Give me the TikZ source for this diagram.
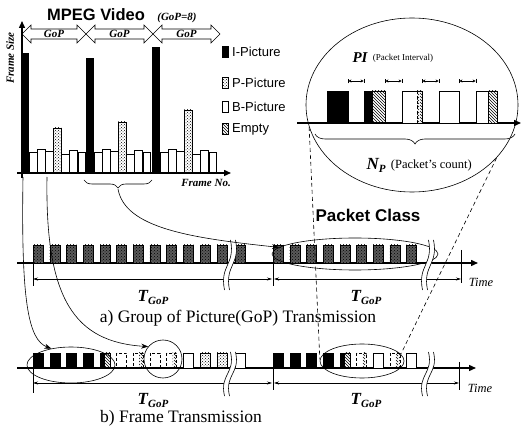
\documentclass[tikz,border=0pt]{standalone}
\usepackage{fontspec}
\setmainfont{Liberation Serif}
\newfontfamily\hvfont{Liberation Sans}
\usetikzlibrary{arrows.meta,positioning,calc,decorations.pathreplacing,patterns,shapes.geometric}
\tikzset{
  ibar/.style={draw=black, fill=black},
  pbar/.style={draw=black, pattern=crosshatch dots},
  bbar/.style={draw=black, fill=white},
  ebar/.style={draw=black, pattern=north west lines},
  apkt/.style={draw=black, preaction={fill=black!65}, pattern=crosshatch dots},
  dpkt/.style={draw=black, densely dashed},
  ihpkt/.style={draw=black, path picture={
      \fill (path picture bounding box.south west) rectangle (path picture bounding box.north);
      \fill[pattern=north west lines] (path picture bounding box.north) rectangle (path picture bounding box.south east);}},
  whpkt/.style={draw=black, densely dashed, path picture={
      \fill[pattern=north west lines] ([xshift=-4pt]path picture bounding box.north east) rectangle (path picture bounding box.south east);}},
  axis/.style={-{Triangle[length=7pt,width=6pt]}, line width=1.4pt},
  dim/.style={{Stealth[length=5pt,width=3pt]}-{Stealth[length=5pt,width=3pt]}, semithick},
  lens/.style={draw, ellipse, inner sep=0pt, semithick},
  link/.style={-{Stealth[length=7pt,width=5pt]}, semithick},
  zoomline/.style={semithick, dash pattern=on 4pt off 3pt},
  lbl/.style={font=\bfseries\itshape\fontsize{11}{13}\selectfont},
  tgop/.style={font=\bfseries\itshape\fontsize{17}{19}\selectfont},
  captxt/.style={font=\fontsize{17.5}{19}\selectfont},
  timelbl/.style={font=\itshape\fontsize{12.5}{14}\selectfont},
  legtxt/.style={anchor=west, font=\hvfont\fontsize{13}{15}\selectfont, inner sep=0pt},
  headtxt/.style={font=\hvfont\bfseries\fontsize{#1}{#1}\selectfont},
}

\begin{document}
\begin{tikzpicture}[x=1pt, y=-1pt]
\useasboundingbox (0,0) rectangle (522,435);

% --- MPEG video chart
\node[headtxt=16.5] (title) at (96,15) {MPEG Video};
\node[lbl] (gopn) at (177,18) {(GoP=8)};
\foreach \a/\b [count=\i] in {22/86, 86/153, 153/220} {
  \draw[semithick, fill=white] (\a,34) -- (\a+9,25) -- (\a+9,29) -- (\b-9,29) -- (\b-9,25) -- (\b,34)
    -- (\b-9,43) -- (\b-9,39) -- (\a+9,39) -- (\a+9,43) -- cycle;
  \node[lbl, inner sep=0pt, anchor=base] (gop\i) at ({(\a+\b)/2},38) {GoP};
}
\foreach \xs/\itop/\ptop in {21/53/128, 86/58/122, 152/47/110} {
  \draw[ibar] (\xs,173) rectangle (\xs+7.5,\itop);
  \foreach \k/\btop in {1/152, 2/149, 3/151, 5/154, 6/150, 7/152}
    \draw[bbar] (\xs+8.1*\k,173) rectangle (\xs+8.1*\k+7.6,\btop);
  \draw[pbar] (\xs+32.4,173) rectangle (\xs+40,\ptop);
}
\draw[axis] (22,178) -- (22,21);
\draw[axis] (17,173) -- (231,173);
\node[lbl, rotate=90] (fsize) at (10,58) {Frame Size};
\node[lbl] (fno) at (206,183) {Frame No.};
\foreach \ty/\sty/\txt [count=\j] in {52/ibar/I-Picture, 83/pbar/P-Picture, 107/bbar/B-Picture, 129/ebar/Empty} {
  \draw[\sty] (222,\ty-5.5) rectangle (228,\ty+5.5);
  \node[legtxt] (leg\j) at (232,\ty) {\txt};
}
\draw[decorate, decoration={brace, amplitude=8pt}, semithick] (152,180) -- (84,180);
\coordinate (bt) at (118,189);
\coordinate (ibot) at (23,177);
\coordinate (bbot) at (47,177);

% --- zoomed packet view
\node[lens, minimum width=212pt, minimum height=174pt] (zoomview) at (412,105) {};
\draw[axis] (297,123) -- (521,123);
\draw[ibar] (327,91) rectangle (348,123);
\draw[ibar] (364,91) rectangle (372,123);
\draw[ebar] (372,91) rectangle (385,123);
\draw[bbar] (402,91) rectangle (422,123);
\draw[ebar, densely dashed] (417,91) rectangle (422,123);
\draw[bbar] (439,91) rectangle (459,123);
\draw[bbar] (476,91) rectangle (497,123);
\draw[ebar] (488,91) rectangle (497,123);
\foreach \a/\b in {348/364, 385/402, 422/439, 459/476}
  \draw[|<->|, >={Stealth[length=3pt,width=3pt]}] (\a,81) -- (\b,81);
\node[font=\bfseries\itshape\fontsize{15}{17}\selectfont, inner sep=1pt] (pi) at (360,58) {PI};
\node[right=3pt of pi, font=\fontsize{9}{11}\selectfont, inner sep=1pt] (pitxt) {(Packet Interval)};
\draw[decorate, decoration={brace, amplitude=10pt}, semithick] (515,134) -- (315,134);
\node[font=\bfseries\itshape\fontsize{17}{19}\selectfont, inner sep=1pt] (np) at (376,165)
  {N\raisebox{-3pt}{\fontsize{11}{13}\selectfont P}};
\node[right=3pt of np, font=\fontsize{12.5}{14}\selectfont, inner sep=1pt] (nptxt) {(Packet's count)};

% --- a) GoP transmission
\draw[axis] (17,263) -- (478,263);
\foreach \k in {0,...,11}
  \draw[apkt] (33+16.7*\k,245) rectangle (43+16.7*\k,263);
\draw[apkt] (235,245) rectangle (245,263);
\foreach \k in {0,...,8}
  \draw[apkt] (273+16.7*\k,245) rectangle (283+16.7*\k,263);
\draw (33,263) -- (33,286);
\draw (273,250) -- (273,286);
\draw (461,250) -- (461,283);
\draw[dim] (33,279) -- (272,279);
\draw[dim] (274,279) -- (461,279);
\node[tgop] (ta1) at (153,297) {T\raisebox{-3pt}{\fontsize{11}{13}\selectfont GoP}};
\node[tgop] (ta2) at (366,297) {T\raisebox{-3pt}{\fontsize{11}{13}\selectfont GoP}};
\node[timelbl] (timea) at (481,282) {Time};
\node[lens, minimum width=166pt, minimum height=32pt] (pclass) at (355,254) {};
\node[headtxt=17] (pcl) at (368,215) {Packet Class};
\node[captxt] (capa) at (238,318) {a) Group of Picture(GoP) Transmission};

% --- b) frame transmission
\draw[axis] (17,368) -- (476,368);
\foreach \x/\t in {33/ibar, 49.7/ibar, 66.4/ibar, 83.1/ibar, 99.8/ihpkt, 116.5/dpkt, 133.2/whpkt,
    149.9/dpkt, 166.6/whpkt, 183.3/bbar, 200/pbar, 216.7/pbar, 235/bbar,
    273/ibar, 289.7/ibar, 306.4/ibar, 323.1/ibar, 339.8/ihpkt, 356.5/whpkt, 373.2/bbar, 389.9/whpkt, 406.6/bbar}
  \draw[\t] (\x,353) rectangle (\x+10,368);
\draw (33,368) -- (33,393);
\draw (273,368) -- (273,390);
\draw (459,362) -- (459,390);
\draw[dim] (33,383) -- (272,383);
\draw[dim] (274,383) -- (459,383);
\node[tgop] (tb1) at (153,400) {T\raisebox{-3pt}{\fontsize{11}{13}\selectfont GoP}};
\node[tgop] (tb2) at (366,400) {T\raisebox{-3pt}{\fontsize{11}{13}\selectfont GoP}};
\node[timelbl] (timeb) at (480,388) {Time};
\node[lens, minimum width=88pt, minimum height=36pt] (lensI) at (71,365) {};
\node[lens, minimum width=38pt, minimum height=38pt] (frm) at (163,359) {};
\node[lens, minimum width=84pt, minimum height=34pt] (lensN) at (362,361) {};
\node[captxt] (capb) at (181,418) {b) Frame Transmission};

% --- breaks
\foreach \bx/\ya/\yb in {230/240/290, 428/240/290, 230/352/396, 428/352/396} {
  \draw[white, line width=5pt] (\bx+3,\ya) .. controls (\bx+8,{(\ya+\yb)/2}) and (\bx-8,{(\ya+\yb)/2}) .. (\bx-3,\yb);
  \foreach \s in {-2.5,2.5}
    \draw[semithick] (\bx+3+\s,\ya) .. controls (\bx+8+\s,{(\ya+\yb)/2}) and (\bx-8+\s,{(\ya+\yb)/2}) .. (\bx-3+\s,\yb);
}

% --- links
\draw[link] (ibot) .. controls (21,300) and (28,340) .. (lensI.140);
\draw[link] (bbot) .. controls (45,300) and (75,342) .. (frm.140);
\draw[link] (bt) .. controls (125,228) and (190,238) .. (pclass.175);
\draw[zoomline] (zoomview.192) -- (lensN.178);
\draw[zoomline] (zoomview.-32) -- (lensN.10);
\end{tikzpicture}
\end{document}
